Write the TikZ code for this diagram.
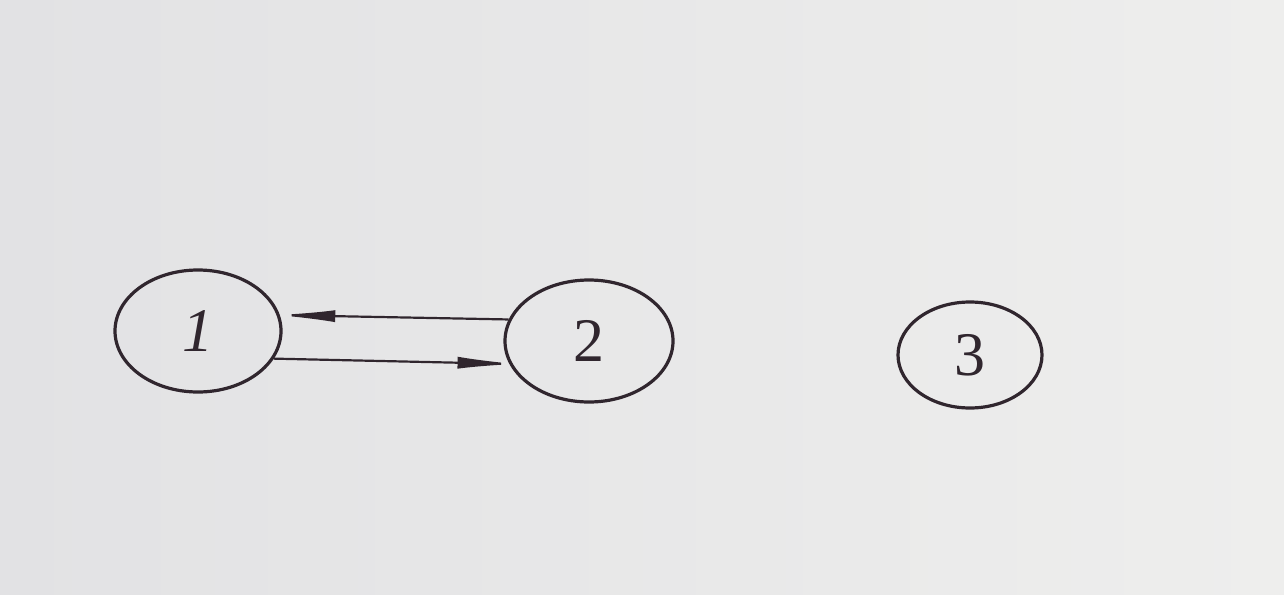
\documentclass[tikz,border=0pt]{standalone}
\usepackage{fontspec}
\setmainfont{Liberation Serif}
\usetikzlibrary{shapes.geometric,arrows.meta,calc}
\definecolor{paperL}{RGB}{226,226,228}
\definecolor{paperR}{RGB}{238,238,237}
\definecolor{ink}{RGB}{48,38,46}
\tikzset{
  state/.style={ellipse, draw=ink, line width=1.6pt, inner sep=0pt,
    font=\fontsize{31}{37}\selectfont, text=ink},
  link/.style={draw=ink, line width=1.1pt, -{Latex[length=30pt,width=6pt]}}
}
\begin{document}
\begin{tikzpicture}[x=0.5pt,y=-0.5pt]
\shade[left color=paperL, right color=paperR] (0,0) rectangle (1284,594);
\useasboundingbox (0,0) rectangle (1284,594);
\node[state, minimum width=83pt, minimum height=61pt] (n1) at (198,331) {\itshape 1};
\node[state, minimum width=84pt, minimum height=61pt] (n2) at (589,341) {2};
\node[state, minimum width=72pt, minimum height=53pt] (n3) at (970,355) {3};
\draw[link] (n2.165) -- ($(n2.165)!1.02!(n1.11)$);
\draw[link] (n1.-20) -- ($(n1.-20)!1.035!(n2.196)$);
\end{tikzpicture}
\end{document}
